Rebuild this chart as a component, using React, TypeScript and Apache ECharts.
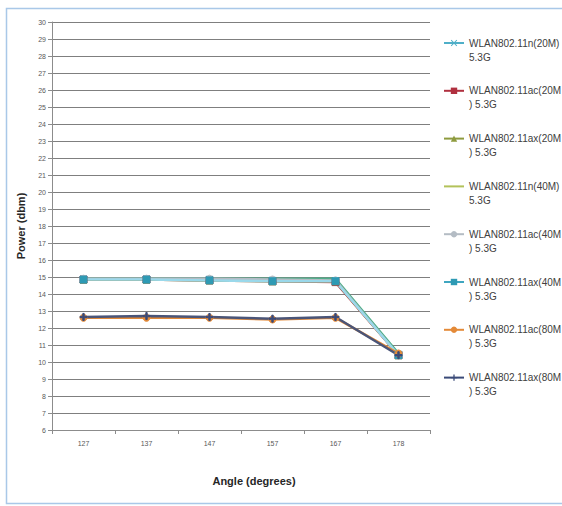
import React, { useEffect, useRef } from "react";
import * as echarts from "echarts";

const angles = ["127", "137", "147", "157", "167", "178"];

const seriesNames = [
  "WLAN802.11n(20M)\n5.3G",
  "WLAN802.11ac(20M\n) 5.3G",
  "WLAN802.11ax(20M\n) 5.3G",
  "WLAN802.11n(40M)\n5.3G",
  "WLAN802.11ac(40M\n) 5.3G",
  "WLAN802.11ax(40M\n) 5.3G",
  "WLAN802.11ac(80M\n) 5.3G",
  "WLAN802.11ax(80M\n) 5.3G",
];

const n20 = [14.85, 14.85, 14.85, 14.8, 14.75, 10.45];
const ac20 = [14.85, 14.85, 14.8, 14.75, 14.7, 10.4];
const ax20 = [14.85, 14.85, 14.8, 14.75, 14.75, 10.4];
const n40 = [14.9, 14.9, 14.9, 14.9, 14.9, 10.5];
const ac40 = [14.9, 14.9, 14.9, 14.85, 14.8, 10.4];
const ax40 = [14.85, 14.85, 14.8, 14.75, 14.75, 10.4];
const ac80 = [12.6, 12.6, 12.6, 12.5, 12.6, 10.5];
const ax80 = [12.65, 12.7, 12.65, 12.55, 12.65, 10.4];

const seriesValues = [n20, ac20, ax20, n40, ac40, ax40, ac80, ax80];

const lineColors = ["#4FAFC8", "#B0303F", "#8E9B3E", "#4FAF8A", "#B4BCC4", "#9AD8EA", "#E48A38", "#4A5578"];
const legendLineColors = ["#4FAFC8", "#B0303F", "#8E9B3E", "#B3C25A", "#B4BCC4", "#3FA6C0", "#E48A38", "#3A4A78"];

const X_SYM = "path://M1,0L5,4L9,0L10,1L6,5L10,9L9,10L5,6L1,10L0,9L4,5L0,1Z";
const PLUS_SYM = "path://M4,0H6V4H10V6H6V10H4V6H0V4H4Z";
const symbols = [X_SYM, "rect", "triangle", "none", "circle", "rect", "circle", PLUS_SYM];
const markerColors = ["#4FAFC8", "#B0303F", "#8E9B3E", "#B3C25A", "#B4BCC4", "#2E9AB4", "#E48A38", "#3A4A78"];

export default function App() {
  const ref = useRef<HTMLDivElement>(null);

  useEffect(() => {
    if (!ref.current) return;
    const chart = echarts.init(ref.current, undefined, { renderer: "svg" });
    const font = "Liberation Sans";

    const legends = seriesNames.map((name, i) => ({
      data: [
        symbols[i] === "none"
          ? { name, itemStyle: { opacity: 0 }, lineStyle: { color: legendLineColors[i] } }
          : { name, lineStyle: { color: legendLineColors[i] } },
      ],
      orient: "horizontal" as const,
      left: 443,
      top: 43 + 47.8 * i - 21,
      padding: 0,
      itemWidth: 20,
      itemHeight: 8,
      formatter: (n: string) => "\n" + n,
      textStyle: {
        fontFamily: font,
        fontSize: 10,
        color: "#404040",
        lineHeight: 14,
      },
    }));

    chart.setOption({
      animation: false,
      backgroundColor: "#ffffff",
      textStyle: { fontFamily: font },
      grid: { left: 52, right: 132, top: 22, bottom: 76 },
      legend: legends,
      xAxis: {
        type: "category",
        data: angles,
        boundaryGap: true,
        axisLine: { lineStyle: { color: "#8C8C8C", width: 1 } },
        axisTick: { show: true, length: 4, lineStyle: { color: "#8C8C8C" } },
        axisLabel: { fontSize: 7, color: "#595959", margin: 10 },
        splitLine: { show: false },
      },
      yAxis: {
        type: "value",
        min: 6,
        max: 30,
        interval: 1,
        axisLine: { show: true, lineStyle: { color: "#8C8C8C", width: 1 } },
        axisTick: { show: true, length: 4, lineStyle: { color: "#8C8C8C" } },
        axisLabel: { fontSize: 7, color: "#595959", margin: 6 },
        splitLine: { show: true, lineStyle: { color: "#7F7F7F", width: 1 } },
      },
      series: seriesValues.map((vals, i) => ({
        name: seriesNames[i],
        type: "line",
        data: vals,
        symbol: symbols[i],
        symbolSize: 7,
        showSymbol: symbols[i] !== "none",
        lineStyle: { color: lineColors[i], width: 2.5 },
        itemStyle: { color: markerColors[i], borderColor: markerColors[i] },
        emphasis: { disabled: true },
      })),
      graphic: [
        {
          type: "rect",
          shape: { x: 6.5, y: 8.5, width: 560, height: 495 },
          style: { fill: "none", stroke: "#A9C8E8", lineWidth: 1.5 },
          silent: true,
        },
        {
          type: "text",
          x: 21,
          y: 226,
          rotation: Math.PI / 2,
          style: {
            text: "Power (dbm)",
            fontFamily: font,
            fontSize: 11,
            fontWeight: "bold",
            fill: "#262626",
            align: "center",
            verticalAlign: "middle",
          },
        },
        {
          type: "text",
          x: 254,
          y: 481,
          style: {
            text: "Angle (degrees)",
            fontFamily: font,
            fontSize: 11,
            fontWeight: "bold",
            fill: "#262626",
            align: "center",
            verticalAlign: "middle",
          },
        },
      ],
    });

    return () => chart.dispose();
  }, []);

  return (
    <div
      ref={ref}
      style={{ position: "fixed", left: 0, top: 0, width: 562, height: 506 }}
    />
  );
}
